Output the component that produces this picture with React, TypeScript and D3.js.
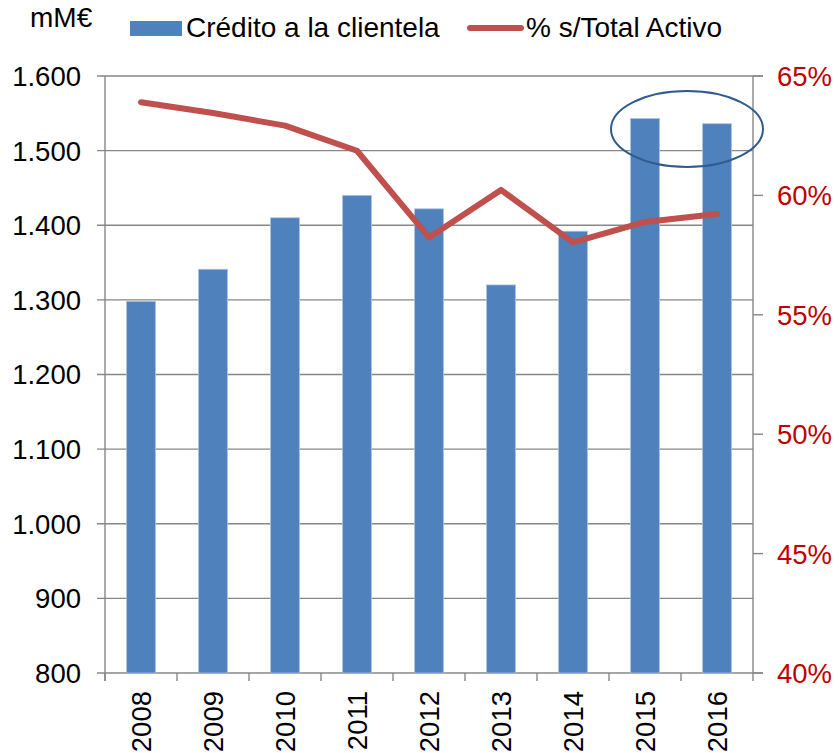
import React from "react";
import * as d3 from "d3";

const years = ["2008", "2009", "2010", "2011", "2012", "2013", "2014", "2015", "2016"];
const credito = [1298, 1341, 1410, 1440, 1422, 1320, 1392, 1543, 1536];
const pctActivo = [63.9, 63.45, 62.92, 61.87, 58.24, 60.23, 58.03, 58.89, 59.22];
const leftTicks = [800, 900, 1000, 1100, 1200, 1300, 1400, 1500, 1600];
const rightTicks = [40, 45, 50, 55, 60, 65];
const legendLabels = ["Crédito a la clientela", "% s/Total Activo"];
const unitLabel = "mM€";

const W = 839;
const H = 753;
const M = { left: 105, right: 753, top: 76, bottom: 673 };
const FONT = "'Liberation Sans', Arial, sans-serif";
const GRAY = "#878787";

export default function App() {
  const x = d3.scaleBand<string>().domain(years).range([M.left, M.right]).paddingInner(0.6).paddingOuter(0.3);
  const xOuter = d3.scaleBand<string>().domain(years).range([M.left, M.right]);
  const yL = d3.scaleLinear().domain([800, 1600]).range([M.bottom, M.top]);
  const yR = d3.scaleLinear().domain([40, 65]).range([M.bottom, M.top]);
  const fmt = d3.formatLocale({ decimal: ",", thousands: ".", grouping: [3], currency: ["", "€"] }).format(",d");

  const line = d3
    .line<number>()
    .x((_, i) => (xOuter(years[i]) as number) + xOuter.bandwidth() / 2)
    .y((d) => yR(d));

  const cx = ((xOuter("2015") as number) + (xOuter("2016") as number) + xOuter.bandwidth()) / 2 + 6;
  const cy = yL(1529);

  return (
    <svg width={W} height={H} style={{ position: "absolute", left: 0, top: 0, background: "#fff" }} fontFamily={FONT}>
      {leftTicks.map((t) => (
        <line key={"g" + t} x1={M.left - 8} x2={t === 800 || t === 1600 ? M.right + 10 : M.right} y1={yL(t)} y2={yL(t)} stroke={GRAY} strokeWidth={1.4} />
      ))}
      {credito.map((v, i) => (
        <rect
          key={"b" + i}
          x={x(years[i]) as number}
          y={yL(v)}
          width={x.bandwidth()}
          height={yL(800) - yL(v)}
          fill="#4F81BD"
          stroke="#A9C1E0"
          strokeWidth={0.8}
        />
      ))}
      <line x1={M.left} x2={M.left} y1={M.top} y2={M.bottom + 8} stroke={GRAY} strokeWidth={1.4} />
      <line x1={M.right} x2={M.right} y1={M.top} y2={M.bottom + 8} stroke={GRAY} strokeWidth={1.4} />
      {years.map((yv, i) => (
        <line key={"xt" + i} x1={(xOuter(yv) as number)} x2={(xOuter(yv) as number)} y1={M.bottom} y2={M.bottom + 8} stroke={GRAY} strokeWidth={1.4} />
      ))}
      {rightTicks.map((t) => (
        <line key={"rt" + t} x1={M.right} x2={M.right + 10} y1={yR(t)} y2={yR(t)} stroke={GRAY} strokeWidth={1.4} />
      ))}
      <path d={line(pctActivo) as string} fill="none" stroke="#C0504D" strokeWidth={6} strokeLinecap="round" strokeLinejoin="round" />
      <ellipse cx={cx} cy={cy} rx={76} ry={38} fill="none" stroke="#2E5C8F" strokeWidth={2} />
      {leftTicks.map((t) => (
        <text key={"lt" + t} x={81} y={yL(t)} dy="0.36em" textAnchor="end" fontSize={27.5} fill="#000">
          {fmt(t)}
        </text>
      ))}
      {rightTicks.map((t) => (
        <text key={"rl" + t} x={777} y={yR(t)} dy="0.36em" textAnchor="start" fontSize={27.5} fill="#C00000">
          {t + "%"}
        </text>
      ))}
      {years.map((yv) => {
        const cxv = (xOuter(yv) as number) + xOuter.bandwidth() / 2;
        return (
          <text key={"xl" + yv} transform={`translate(${cxv},${691}) rotate(-90)`} dy="0.36em" textAnchor="end" fontSize={27.5} fill="#000">
            {yv}
          </text>
        );
      })}
      <text x={30} y={27} fontSize={28} fill="#000">{unitLabel}</text>
      <rect x={130} y={21} width={52} height={15} fill="#4F81BD" />
      <text x={186} y={37} fontSize={28} fill="#000">{legendLabels[0]}</text>
      <line x1={470} x2={521} y1={28} y2={28} stroke="#C0504D" strokeWidth={6} strokeLinecap="round" />
      <text x={526} y={37} fontSize={28} fill="#000">{legendLabels[1]}</text>
    </svg>
  );
}
